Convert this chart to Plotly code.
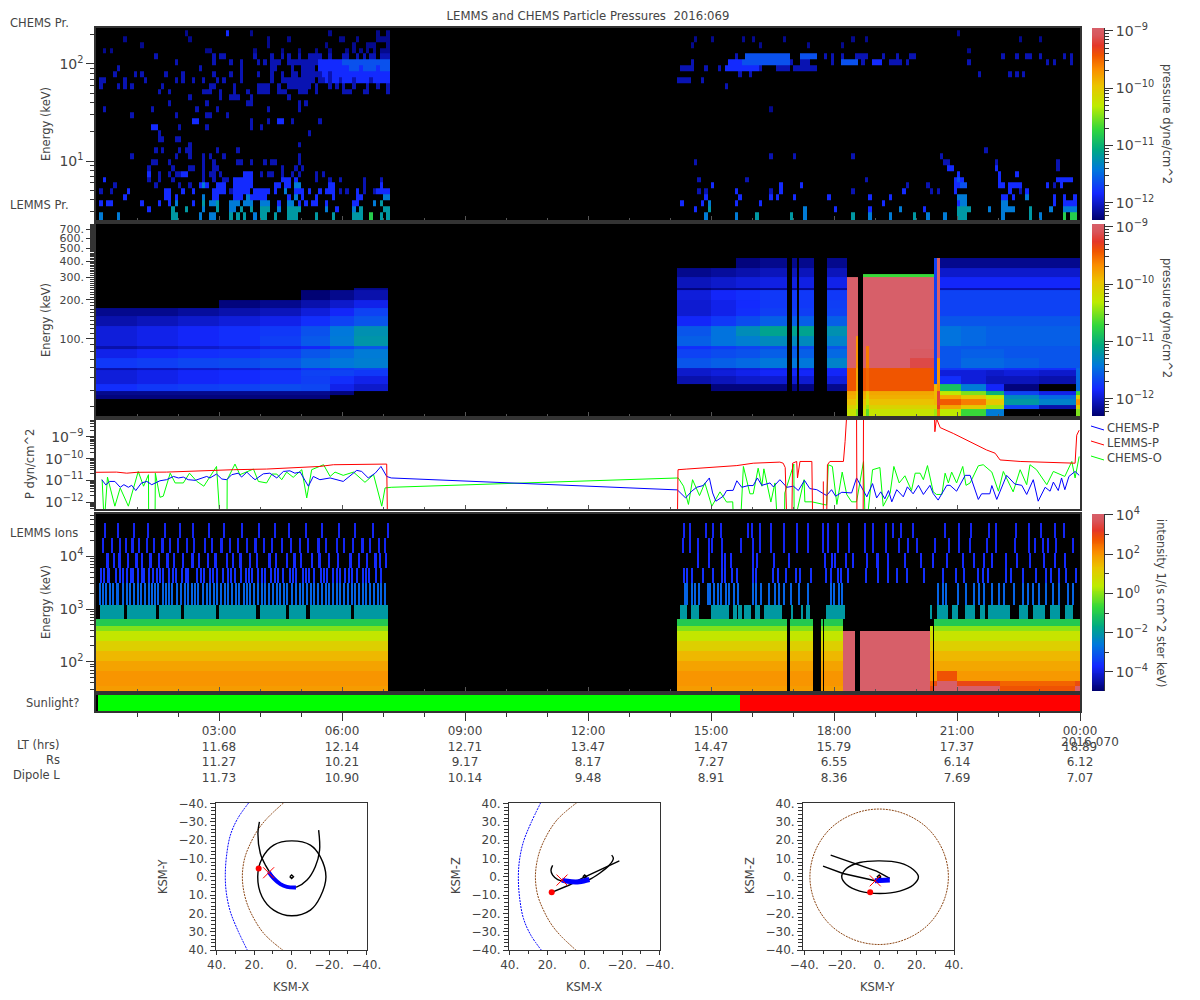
import math
import plotly.graph_objects as go

FONT = "DejaVu Sans"
INK = "#444444"
FRAME = "#333333"
W, H = 1200, 1000
N = None

# ---------- colour scale ----------
RAINBOW = [
    [0.0, "rgb(0,0,110)"], [0.14, "rgb(20,40,255)"], [0.262, "rgb(0,120,220)"],
    [0.367, "rgb(0,170,130)"], [0.472, "rgb(50,215,60)"], [0.594, "rgb(190,235,0)"],
    [0.70, "rgb(235,195,0)"], [0.787, "rgb(250,140,0)"], [0.857, "rgb(240,85,0)"],
    [0.909, "rgb(228,55,40)"], [0.96, "rgb(217,85,90)"], [1.0, "rgb(215,95,105)"],
]
P_MIN, P_MAX = -12.3, -8.95
I_MIN, I_MAX = -4.97, 4.05

# ---------- panel 1: CHEMS / LEMMS low-energy pressure, log10 dyne/cm^2 ----------
P1_ENERGY_EDGES = [2.47, 2.98, 3.42, 3.94, 4.52, 5.20, 5.98, 6.87, 7.90, 9.08, 10.4, 12.0, 13.8, 15.8, 18.2,
                   20.9, 24.1, 27.7, 31.8, 36.6, 42.0, 48.3, 55.5, 63.8, 73.4, 84.3, 97.0, 111, 128, 147, 169,
                   195, 224, 257]
P1_GREEN = {0: [80, 283, 285, 286]}
P1_TEAL = {0: [22, 23, 39, 41, 43, 48, 49, 52, 56, 57, 58, 64, 69, 75, 76, 77, 83, 85, 193, 203, 221, 239, 252, 253, 254, 273],
           1: [22, 26, 35, 42, 45, 48, 49, 50, 56, 57, 58, 59, 77, 84, 85, 179, 252, 253, 254, 255, 273],
           2: [31, 35, 83]}
P1_CYAN = {0: [1, 6, 30, 33, 34, 46, 178, 187, 207, 226, 232, 243, 248, 265, 276],
           1: [31, 39, 40, 53, 67, 75, 207, 235, 261, 265, 266, 267, 268, 279, 283, 284, 285, 286],
           2: [23, 33, 34, 39, 40, 41, 43, 44, 45, 48, 49, 50, 56, 57, 81, 179, 253, 254, 265, 266],
           3: [31, 44, 58, 84, 85, 252, 253, 254, 272],
           4: [55], 5: [31, 58, 59]}
P1_SOFT = {5: [253, 254], 6: [252],
           25: [74, 75, 76, 78, 79, 80, 81, 83, 84, 85],
           26: [72, 73, 74, 75, 76, 77, 78, 79, 80, 81, 82, 83, 84, 85, 218, 219, 220, 221, 222, 189, 190, 191, 192, 193, 194, 195, 196, 197, 198, 199, 200, 201, 202],
           27: [190, 191, 192, 193, 194, 195, 196, 197, 198, 199, 200, 201, 202, 206, 207, 208, 209, 210]}
P1_BRIGHT = {
    1: [15, 70, 175, 216, 226, 242],
    2: [1, 3, 4, 13, 18, 21, 28, 53, 59, 61, 63, 64, 67, 75, 76, 171, 177, 187, 194, 230, 252, 280, 283, 284, 285, 286],
    3: [8, 20, 21, 23, 34, 35, 40, 41, 42, 45, 46, 47, 48, 49, 56, 60, 64, 69, 76, 77, 178, 188, 197, 199, 204, 214, 226, 232, 265, 266, 268, 280, 283, 286],
    4: [9, 20, 21, 25, 28, 34, 35, 36, 37, 40, 41, 42, 43, 44, 46, 47, 48, 49, 50, 52, 58, 59, 60, 62, 65, 67, 68, 69, 76, 82, 83, 84, 85, 200, 187, 236, 251, 267, 272],
    5: [30, 31, 32, 35, 36, 37, 40, 41, 42, 43, 44, 45, 52, 53, 55, 56, 68, 69, 83, 180, 200, 206, 251, 252, 264, 265, 267, 268, 269, 270, 278, 282],
    6: [2, 40, 41, 42, 43, 44, 45, 54, 55, 56, 58, 251, 252, 253, 264, 281, 282, 283, 284, 285],
    7: [15, 25, 26, 43, 44, 45, 252, 264, 269],
    8: [249, 250, 263],
    16: [28, 29, 53, 54],
    15: [16, 17],
    24: [66, 67, 69, 70, 71, 72, 73, 74, 75, 76, 77, 78, 79, 80, 81, 82, 83, 84, 85],
    23: [67, 69, 70, 72, 73, 74, 76, 77, 78, 79, 81, 82, 83, 84, 85],
    25: [65, 66, 67, 68, 69, 70, 71, 72, 73, 77, 82, 184, 185, 186, 187, 188, 189, 190, 191, 192, 193],
    26: [65, 66, 67, 68, 69, 70, 71, 185, 186, 187, 188, 227, 228, 229],
    31: [38],
}
P1_BLUE = {
    4: [1, 4, 39, 71, 73, 78, 81, 176, 178, 197, 221, 244, 246, 270],
    5: [5, 17, 24, 27, 78, 206, 237, 243, 253, 280],
    6: [15, 18, 22, 31, 34, 37, 38, 64, 68, 71, 78, 83, 176, 190, 225],
    7: [18, 21, 23, 24, 31, 33, 34, 36, 48, 50, 51, 54, 57, 59, 64, 66],
    8: [15, 22, 27, 28, 31, 34, 35, 54, 58, 60, 281],
    9: [16, 17, 21, 31, 34, 41, 42, 45, 49, 51, 52, 59, 248, 249, 263, 281, 175],
    10: [10, 23, 27, 31, 33, 37, 59, 197, 204, 221, 247],
    11: [17, 19, 24, 26, 27, 35, 41, 260],
    12: [27, 59],
    13: [18, 19, 23, 24],
    14: [18, 62],
    15: [24, 32, 45, 48],
    16: [45, 50, 57, 65],
    17: [10, 23, 32, 33, 38],
    18: [2, 16, 29, 35, 50, 59],
    19: [21, 32, 44, 45, 59, 61],
    20: [27, 36, 39, 40, 41, 45, 56],
    21: [18, 21, 31, 32, 33, 36, 40, 44, 47, 48, 49, 50, 53, 54, 55, 59, 60, 61, 64, 72, 73, 74, 78, 79, 85],
    22: [1, 6, 8, 10, 19, 33, 34, 40, 47, 48, 49, 50, 53, 56, 57, 58, 59, 60, 61, 62, 64, 68, 70, 72, 75, 79, 82, 85, 184],
    23: [1, 2, 8, 14, 23, 25, 28, 31, 35, 37, 42, 51, 54, 55, 56, 57, 58, 59, 60, 61, 62, 63, 65, 66, 68, 71, 75, 80, 170, 171, 172, 173, 177],
    24: [5, 11, 13, 20, 25, 34, 39, 42, 47, 51, 54, 57, 58, 60, 61, 62, 63, 64, 65, 68, 188, 191, 258, 267, 269, 271],
    25: [6, 30, 42, 51, 52, 57, 60, 61, 62, 63, 171, 172, 173, 174, 178, 182, 194, 199, 200, 201, 202, 204, 205, 206, 207, 208, 209, 210],
    26: [23, 34, 39, 42, 47, 49, 51, 52, 53, 56, 57, 58, 59, 60, 61, 62, 63, 64, 174, 203, 206, 207, 208, 215, 224, 232, 233, 234, 235, 237, 255, 278, 280, 285],
    27: [17, 34, 36, 37, 46, 51, 54, 56, 59, 62, 63, 64, 65, 68, 72, 73, 76, 78, 80, 81, 83, 84, 85, 187, 213, 215, 218, 222, 223, 224, 225, 230, 234, 238, 239, 265, 269, 272, 273, 276, 283, 285],
}
P1_DARK = {
    28: [2, 4, 32, 33, 46, 54, 59, 64, 68, 73, 75, 77, 79, 81, 83, 84, 85, 255],
    29: [13, 50, 67, 75, 79, 80, 81, 85, 174, 194, 208, 218],
    30: [8, 27, 50, 56, 71, 72, 76, 82, 83, 84, 85, 175, 180, 189, 192, 201, 221, 225, 270, 276],
    31: [26, 45, 68, 82, 85, 252],
    18: [197],
}
P1_LEVEL_BY_NAME = [(P1_DARK, -12.2), (P1_BLUE, -12.08), (P1_BRIGHT, -11.82), (P1_SOFT, -11.62),
                    (P1_CYAN, -11.4), (P1_TEAL, -11.2), (P1_GREEN, -10.8)]

# ---------- panel 2: LEMMS pressure, log10 dyne/cm^2 ----------
P2_ENERGY_EDGES = [422, 353, 318, 301, 248, 239, 200, 173, 151, 126, 105, 88.3, 83.7, 71.3, 59.7, 57.7, 51.8,
                   45.0, 39.6, 36.9, 34.4, 30.9, 28.8, 25.4]
GAP = [N] * 23
L1 = [N, N, N, N, N, N, N, -12.2, -12.1, -11.95, -11.95, -12.1, -11.9, -11.75, -12.1, -11.95, -11.95, -11.8, -12.2, -12.25, N, N, N]
L2 = [N, N, N, N, N, N, N, -12.2, -12.05, -11.9, -11.9, -12.05, -11.85, -11.72, -12.05, -11.9, -11.9, -11.75, -12.2, -12.25, N, N, N]
L3 = [N, N, N, N, N, N, N, -12.15, -12.0, -11.85, -11.85, -12.0, -11.8, -11.68, -12.0, -11.85, -11.85, -11.72, -12.2, -12.25, N, N, N]
L4 = [N, N, N, N, N, N, -12.25, -12.1, -11.95, -11.8, -11.8, -11.95, -11.78, -11.65, -11.95, -11.82, -11.82, -11.7, -12.2, -12.25, N, N, N]
L5 = [N, N, N, N, N, N, -12.2, -12.05, -11.9, -11.75, -11.72, -11.9, -11.72, -11.6, -11.9, -11.78, -11.78, -11.65, -12.2, -12.25, N, N, N]
L6 = [N, N, N, N, N, -12.28, -12.1, -11.95, -11.8, -11.62, -11.58, -11.85, -11.6, -11.5, -11.8, -11.7, -11.72, -11.68, -12.2, -12.25, N, N, N]
L7 = [N, N, N, N, N, -12.2, -12.0, -11.85, -11.7, -11.42, -11.4, -11.7, -11.5, -11.42, -11.75, -11.7, -11.8, -11.9, -12.25, N, N, N, N]
L8 = [N, N, N, N, -12.2, -12.1, -11.9, -11.7, -11.6, -11.25, -11.22, -11.6, -11.4, -11.38, -11.7, -11.75, -11.9, -12.0, N, N, N, N, N]
M1 = [N, -12.2, -12.2, -12.05, -12.25, -11.95, -11.98, -11.98, -11.85, -11.6, -11.55, -11.8, -11.7, -11.6, -12.0, -12.0, -12.1, N, N, N, N, N, N]
M2 = [N, -12.15, -12.15, -12.0, -12.2, -11.85, -11.9, -11.9, -11.75, -11.45, -11.45, -11.75, -11.65, -11.55, -12.0, -11.95, -12.05, -12.25, N, N, N, N, N]
M3 = [-12.25, -12.1, -12.1, -11.95, -12.2, -11.8, -11.82, -11.8, -11.65, -11.28, -11.38, -11.7, -11.62, -11.5, -11.95, -11.9, -12.0, -12.25, N, N, N, N, N]
M4 = [-12.2, -12.05, -12.05, -11.92, -12.2, -11.75, -11.75, -11.72, -11.55, -11.12, -11.3, -11.65, -11.55, -11.42, -11.9, -11.85, -11.98, -12.25, N, N, N, N, N]
M5 = [-12.2, -12.05, -12.05, -11.9, -12.15, -11.75, -11.72, -11.7, -11.55, -11.25, -11.35, -11.6, -11.5, -11.35, -11.85, -11.85, -11.95, -12.2, N, N, N, N, N]
PK1 = [N, N, N, -8.9, -8.9, -8.9, -8.9, -8.9, -8.9, -8.9, -8.9, -8.9, -8.9, -8.9, -9.43, -9.43, -9.43, -9.43, -9.8, -9.85, -9.95, -10.1, -10.25]
PK2 = [N, N, N, -8.9, -8.9, -8.9, -8.9, -8.9, -8.9, -8.9, -9.7, -9.7, -9.7, -9.7, -9.8, -9.8, -9.8, -9.8, -10.0, -10.1, -10.2, -10.3, -10.5]
PK3 = [N, N, -10.7, -8.9, -8.9, -8.9, -8.9, -8.9, -8.9, -8.9, -8.9, -8.9, -8.9, -8.9, -9.43, -9.43, -9.43, -9.43, -9.8, -9.85, -9.95, -10.1, -10.25]
PK4 = [N, N, -10.7, -8.9, -8.9, -8.9, -8.9, -8.9, -8.9, -8.9, -8.9, -9.6, -9.6, -9.6, -9.5, -9.5, -9.5, -9.5, -10.0, -10.1, -10.25, -10.4, -10.6]
PK5 = [N, N, -10.7, -8.9, -8.9, -8.9, -8.9, -8.9, -8.9, -8.9, -8.9, -8.9, -9.0, -9.15, -9.43, -9.43, -9.43, -9.43, -9.8, -9.85, -9.95, -10.1, -10.25]
ST1 = [-11.7, -11.7, -11.7, -11.7, -11.7, -11.7, -11.7, -11.7, -11.7, -11.7, -11.7, -11.7, -11.7, -11.7, -11.7, -11.7, -11.7, -9.9, -9.9, -9.9, -9.9, -10.1, -10.4]
ST2 = [-8.9, -8.9, -8.9, -8.9, -8.9, -8.9, -8.9, -8.9, -8.9, -8.9, -8.9, -8.9, -8.9, -9.7, -9.7, -9.7, -9.7, -9.7, -9.2, -9.2, -9.2, -9.3, -9.6]
R1 = [-12.2, -12.0, -12.0, -11.85, -12.1, -11.7, -11.7, -11.7, -11.6, -11.45, -11.45, -11.6, -11.6, -11.6, -11.75, -11.95, -11.8, -10.9, -10.3, -9.8, -9.45, -9.8, -10.3]
R2 = [-12.2, -12.0, -12.0, -11.85, -12.1, -11.7, -11.7, -11.7, -11.6, -11.5, -11.5, -11.6, -11.55, -11.5, -11.75, -11.95, -11.95, -11.4, -10.5, -10.0, -9.6, -10.0, -10.7]
R3 = [-12.2, -12.0, -12.0, -11.85, -12.1, -11.7, -11.7, -11.7, -11.6, -11.55, -11.55, -11.6, -11.55, -11.5, -11.75, -12.0, -12.05, -11.85, -11.0, -10.3, -10.0, -10.4, -11.4]
R4 = [-12.2, -12.0, -12.0, -11.85, -12.1, -11.7, -11.7, -11.7, -11.6, -11.55, -11.55, -11.6, -11.6, -11.55, -11.8, -11.95, -12.05, -12.25, -11.7, -11.3, -11.2, -11.7, N]
R5 = [-12.2, -12.0, -12.0, -11.85, -12.1, -11.7, -11.7, -11.7, -11.6, -11.55, -11.55, -11.6, -11.6, -11.6, -11.8, -12.0, -12.1, N, -11.9, -11.5, -11.35, -12.1, N]
R6 = [-12.2, -12.0, -12.0, -11.85, -12.1, -11.7, -11.7, -11.7, -11.6, -11.55, -11.55, -11.6, -11.6, -11.6, -11.5, -11.5, -11.5, -11.5, -10.7, -10.1, -9.7, -10.1, -10.5]
P2_COL_HOURS = [0, 1, 2, 3, 4, 5, 5.7, 6.3, 7.12, 14.17, 15, 15.6, 16.2, 16.85, 16.97, 17.1, 17.15, 17.51, 17.83, 18.31,
                18.54, 18.59, 18.71, 18.78, 18.85, 19.85, 20.44, 20.51, 20.59, 21.1, 21.7, 22.15, 23, 23.9, 24]
P2_COL_PROFILE = [L1, L2, L3, L4, L5, L6, L7, L8, GAP, M1, M2, M3, M4, GAP, M4, GAP, M4, GAP, M5, PK1,
                  PK2, GAP, PK3, PK4, PK3, PK5, ST1, ST2, R1, R2, R3, R4, R5, R6]

# ---------- panel 3: line series, (hour, log10 P) ----------
CHEMS_P = [(0.14, -10.97), (0.24, -11.21), (0.33, -11.05), (0.46, -11.05), (0.59, -11.32), (0.68, -11.20), (0.79, -11.32),
           (0.87, -11.23), (0.97, -11.47), (1.11, -11.12), (1.24, -11.05), (1.36, -11.20), (1.56, -11.02), (1.72, -10.97),
           (1.89, -10.82), (2.01, -10.89), (2.13, -10.85), (2.25, -10.97), (2.42, -11.00), (2.58, -10.89), (2.70, -10.82),
           (2.78, -10.89), (2.94, -10.71), (3.07, -10.94), (3.19, -10.97), (3.31, -10.74), (3.47, -10.67), (3.55, -10.85),
           (3.68, -10.62), (3.80, -10.85), (3.88, -10.97), (4.08, -10.70), (4.24, -10.67), (4.41, -10.89), (4.57, -10.59),
           (4.73, -10.56), (4.85, -10.67), (4.98, -10.62), (5.18, -11.27), (5.30, -10.82), (5.46, -10.97), (5.71, -10.89),
           (6.03, -11.05), (6.36, -10.54), (6.48, -10.59), (6.64, -10.89), (6.81, -10.67), (6.95, -10.36), (7.09, -10.82),
           (7.20, -10.89), (14.0, -11.43), (14.18, -11.44), (14.38, -11.81), (14.53, -11.50), (14.65, -11.32), (14.81, -11.24),
           (14.96, -10.89), (15.04, -11.58), (15.12, -11.96), (15.30, -11.73), (15.38, -11.47), (15.54, -11.46), (15.63, -11.02),
           (15.75, -11.32), (15.91, -11.24), (16.03, -11.24), (16.13, -10.89), (16.24, -11.23), (16.44, -11.12), (16.52, -11.30),
           (16.68, -10.97), (16.85, -11.32), (17.01, -11.27), (17.13, -11.47), (17.28, -11.00), (17.41, -11.38), (17.58, -11.43),
           (17.82, -11.70), (17.94, -11.43), (18.04, -11.73), (18.19, -11.55), (18.31, -11.58), (18.43, -11.58), (18.55, -10.89),
           (18.80, -11.76), (18.94, -11.15), (19.04, -11.81), (19.14, -11.53), (19.24, -11.85), (19.33, -11.47), (19.41, -11.99),
           (19.53, -11.43), (19.69, -11.76), (19.79, -11.30), (19.93, -11.62), (20.06, -11.23), (20.18, -11.65), (20.34, -11.23),
           (20.42, -11.61), (20.54, -11.91), (20.75, -11.23), (20.83, -11.23), (20.99, -11.50), (21.20, -10.77), (21.32, -10.77),
           (21.52, -11.88), (21.60, -11.62), (21.80, -11.62), (21.85, -11.24), (21.97, -11.88), (22.21, -10.77), (22.41, -11.17),
           (22.58, -11.23), (22.70, -11.65), (22.86, -10.97), (22.98, -11.96), (23.15, -11.32), (23.27, -11.50), (23.35, -11.08),
           (23.47, -11.47), (23.55, -10.89), (23.63, -11.43), (23.73, -10.82), (23.88, -10.59), (23.98, -10.77)]
LEMMS_P = [(0.0, -10.63), (0.5, -10.62), (0.75, -10.67), (1.0, -10.63), (1.72, -10.62), (2.54, -10.56), (3.35, -10.51),
           (4.16, -10.48), (4.98, -10.41), (5.46, -10.36), (5.79, -10.28), (7.09, -10.25), (7.11, -13), (N, N),
           (14.18, -13), (14.195, -10.51), (14.41, -10.48), (14.98, -10.41), (15.63, -10.32), (16.03, -10.21), (16.68, -10.16),
           (16.76, -10.21), (16.81, -10.41), (16.85, -13), (16.97, -13), (16.99, -10.21), (17.09, -10.13), (17.11, -10.89),
           (17.17, -10.13), (17.46, -10.13), (17.48, -13), (N, N), (17.74, -11.05), (17.74, -13), (N, N), (17.82, -13),
           (17.84, -10.28), (17.90, -10.13), (18.23, -10.13), (18.27, -9.22), (18.31, -8), (18.55, -8), (18.56, -13),
           (18.71, -13), (18.72, -8), (20.45, -8), (20.46, -8.76), (20.50, -8.15), (20.59, -8.57), (20.91, -8.84), (21.32, -9.22),
           (21.72, -9.60), (21.93, -9.75), (22.05, -10.06), (22.54, -10.13), (23.88, -10.21), (23.92, -8.92), (23.98, -8.69)]
CHEMS_O = [(0.15, -10.97), (0.20, -13), (0.28, -10.85), (0.46, -12.19), (0.59, -11.35), (0.79, -12.19), (1.03, -10.59),
           (1.16, -11.27), (1.28, -10.74), (1.285, -13), (1.44, -13), (1.447, -10.67), (1.56, -11.78), (1.64, -11.73),
           (1.81, -10.67), (1.93, -11.12), (2.13, -11.12), (2.28, -10.67), (2.46, -11.05), (2.63, -11.27), (2.94, -10.36),
           (3.03, -13), (3.195, -13), (3.20, -10.97), (3.39, -10.25), (3.51, -10.74), (3.84, -10.48), (3.96, -11.05),
           (4.16, -11.12), (4.29, -10.71), (4.41, -10.71), (4.53, -10.97), (4.65, -10.62), (4.81, -10.86), (5.02, -10.51),
           (5.14, -11.81), (5.26, -10.51), (5.55, -10.28), (5.71, -10.82), (5.83, -10.62), (6.03, -10.77), (6.28, -10.62),
           (6.56, -11.09), (6.77, -10.74), (6.97, -12.19), (7.05, -11.35), (7.20, -11.32), (14.0, -10.89), (14.20, -10.89),
           (14.33, -11.27), (14.45, -12.11), (14.55, -10.97), (14.72, -11.70), (14.85, -11.12), (15.02, -12.19), (15.22, -11.53),
           (15.38, -12.0), (15.53, -11.99), (15.55, -13), (15.72, -13), (15.79, -10.36), (15.95, -11.62), (16.03, -11.62),
           (16.15, -10.44), (16.24, -11.27), (16.29, -10.47), (16.46, -12.0), (16.56, -11.12), (16.62, -13), (16.79, -13),
           (16.80, -11.58), (17.02, -10.25), (17.03, -13), (17.27, -10.97), (17.29, -11.99), (17.46, -11.99), (17.82, -12.14),
           (17.86, -10.28), (17.96, -10.36), (18.07, -12.11), (18.20, -10.62), (18.31, -11.65), (18.43, -11.99), (18.55, -11.99),
           (18.72, -10.13), (18.76, -13), (18.80, -13), (18.94, -10.51), (19.12, -10.41), (19.20, -12.19), (19.37, -11.58),
           (19.46, -10.36), (19.59, -11.12), (19.73, -10.79), (19.89, -11.47), (19.98, -10.67), (20.10, -10.67), (20.18, -10.97),
           (20.28, -10.32), (20.42, -11.53), (20.50, -11.65), (20.63, -11.65), (20.71, -10.67), (20.79, -11.12), (20.87, -10.62),
           (20.99, -11.12), (21.14, -10.36), (21.22, -11.23), (21.32, -11.12), (21.52, -10.33), (21.64, -10.28), (21.85, -10.62),
           (22.01, -11.50), (22.13, -10.59), (22.37, -11.53), (22.54, -10.51), (22.70, -11.20), (22.78, -10.28), (22.94, -10.51),
           (23.19, -11.20), (23.35, -10.59), (23.63, -10.82), (23.80, -10.13), (23.88, -10.89), (23.98, -9.90)]

# ---------- panel 4: LEMMS ions, log10 intensity ----------
P4_ENERGY_EDGES = [63100, 42500, 22000, 11400, 5900, 3060, 1170, 659, 485, 389, 251, 162, 104, 67.4, 43.5, 34.9, 28]
IONS_NORMAL = [-1.0, -0.1, 0.5, 1.05, 1.5, 1.8, 2.0, 2.0, 1.9]
IONS_PINK = [N, N, 4.05, 4.05, 4.05, 4.05, 4.05, 4.05, 4.05]
IONS_R1 = [-1.0, 0.0, 0.55, 1.05, 1.5, 1.75, 2.8, 4.05, 4.05]
IONS_R2 = [-1.0, 0.0, 0.55, 1.05, 1.5, 1.75, 1.95, 3.0, 4.05]
IONS_R3 = [-1.0, 0.0, 0.55, 1.05, 1.5, 1.75, 1.95, 2.6, 2.8]
IONS_R4 = [-1.0, 0.0, 0.55, 1.05, 1.5, 1.75, 1.95, 2.9, 4.05]
IONS_SPIKE = [N, 0.4, 0.8, 1.2, 1.6, 1.8, 2.0, 2.6, 3.0]
P4_SOLID_SPANS = [(0, 292, IONS_NORMAL), (581, 691, IONS_NORMAL), (694, 717, IONS_NORMAL), (725, 727, IONS_NORMAL),
                  (728, 747, IONS_NORMAL), (747, 759, IONS_PINK), (764, 834, IONS_PINK), (834, 837, IONS_SPIKE),
                  (838, 841, IONS_R4), (841, 861, IONS_R1), (861, 904, IONS_R2), (904, 979, IONS_R3), (979, 984, IONS_R4)]
P4_TEAL_SPANS = [(4, 28), (31, 60), (63, 85), (88, 120), (123, 160), (164, 190), (193, 210), (214, 255), (258, 292),
                 (584, 591), (595, 603), (615, 633), (637, 641), (642, 646), (648, 655), (659, 664), (668, 686), (695, 697),
                 (705, 707), (710, 714), (730, 749), (834, 836), (841, 852), (856, 862), (869, 879), (884, 889), (892, 914),
                 (923, 932), (937, 949), (954, 964), (969, 977)]
P4_CYAN_SPIKES = [3, 6, 9, 13, 16, 20, 21, 26, 30, 33, 37, 41, 44, 48, 52, 55, 58, 61, 66, 69, 72, 75, 80, 84, 88, 91, 95, 98,
                  101, 106, 110, 113, 117, 120, 124, 128, 131, 135, 139, 142, 147, 150, 153, 157, 161, 165, 168, 172, 176, 180,
                  183, 187, 190, 195, 199, 203, 206, 210, 214, 217, 221, 225, 229, 232, 236, 240, 243, 247, 251, 255, 258, 262,
                  266, 269, 273, 277, 281, 284, 288, 588, 590, 595, 598, 602, 611, 613, 617, 621, 624, 629, 632, 637, 641, 656,
                  659, 664, 672, 678, 682, 687, 694, 702, 711, 734, 737, 742, 745, 841, 846, 849, 861, 869, 877, 882, 887, 895,
                  902, 907, 917, 926, 931, 936, 942, 949, 956, 962, 971, 976]
P4_DEEP_SPIKES = [4, 7, 11, 12, 19, 23, 26, 30, 34, 36, 41, 45, 47, 52, 56, 60, 63, 66, 72, 76, 79, 85, 89, 91, 100, 104, 107, 113,
                  116, 120, 126, 131, 134, 138, 144, 149, 152, 155, 161, 165, 168, 174, 178, 181, 186, 193, 196, 199, 206, 209,
                  212, 217, 224, 227, 230, 236, 240, 243, 248, 252, 255, 260, 266, 269, 272, 279, 284,
                  587, 590, 595, 606, 616, 625, 628, 635, 640, 656, 659, 676, 681, 689, 699, 703, 714, 729, 734, 741, 744, 751,
                  769, 781, 791, 800, 810, 827, 846, 859, 867, 881, 886, 891, 909, 914, 926, 939, 949, 954, 962, 969, 979]
P4_BLUE_SPIKES = [10, 11, 17, 22, 23, 31, 39, 40, 45, 53, 54, 62, 70, 71, 77, 86, 95, 96, 102, 111, 118, 119, 130, 136, 143, 144, 153,
                  160, 172, 173, 179, 190, 197, 198, 204, 215, 222, 223, 232, 241, 253, 254, 262, 270, 278, 279, 283, 289,
                  601, 612, 625, 628, 634, 656, 660, 677, 692, 728, 735, 738,
                  749, 756, 770, 780, 781, 791, 808, 824, 836, 850, 866, 877, 887, 895, 909, 920, 933, 947, 958, 968]
P4_HIGH_SPIKES = [6, 15, 23, 29, 35, 36, 42, 50, 57, 65, 66, 73, 81, 90, 97, 108, 115, 124, 125, 133, 141, 150, 158, 159, 167, 175, 185, 194, 203,
                  211, 221, 222, 229, 240, 247, 256, 265, 266, 273, 282, 288, 586, 593, 601, 612, 615, 625, 644, 656, 663, 674, 687, 700,
                  711, 726, 731, 741, 752, 768, 776, 789, 802, 811, 820, 838, 852, 862, 873, 890, 899, 918, 932, 938, 946, 951,
                  959, 976]
P4_TOP_SPIKES = [8, 21, 37, 51, 68, 83, 96, 112, 127, 145, 162, 178, 192, 209, 225, 242, 258, 276, 291, 587, 593, 609, 616, 624,
                 651, 655, 663, 674, 687, 700, 711, 726, 731, 741, 752, 768, 776, 789, 796, 804, 816, 848, 862, 874, 892, 899,
                 919, 932, 944, 958, 967]

# ---------- sunlight ----------
SUN_HOURS = [0, 0.05, 15.71, 24]
SUN_STATE = [0, 2, 1]

# ---------- table under the time axis ----------
TICK_HOURS = [3, 6, 9, 12, 15, 18, 21, 24]
TIME_LABELS = ["03:00", "06:00", "09:00", "12:00", "15:00", "18:00", "21:00", "00:00"]
LT_HRS = ["11.68", "12.14", "12.71", "13.47", "14.47", "15.79", "17.37", "18.89"]
RS = ["11.27", "10.21", "9.17", "8.17", "7.27", "6.55", "6.14", "6.12"]
DIPOLE_L = ["11.73", "10.90", "10.14", "9.48", "8.91", "8.36", "7.69", "7.07"]

# ---------- orbit plots ----------
MP_X = [4.3, 13.2, 18.1, 22.0, 25.1, 26.3, 25.1, 22.0, 14.9, 4.3]
MP_T = [-40.4, -31.8, -25.5, -18.2, -10, 0, 10, 19.1, 30.9, 40.4]
BS_X = [22.9, 28.8, 32.7, 34.8, 35.4, 34.8, 32.7, 28.8, 23.5]
BS_T = [-40.4, -31.8, -22.7, -10.9, 0, 9.1, 19.1, 29.1, 40.4]
MP_YZ_Y = [37, 35.7, 32, 26.2, 18.5, 9.6, 0, -9.6, -18.5, -26.2, -32, -35.7, -37, -35.7, -32, -26.2, -18.5, -9.6, 0, 9.6, 18.5, 26.2, 32, 35.7, 37]
MP_YZ_Z = [0, 9.6, 18.5, 26.2, 32, 35.7, 37, 35.7, 32, 26.2, 18.5, 9.6, 0, -9.6, -18.5, -26.2, -32, -35.7, -37, -35.7, -32, -26.2, -18.5, -9.6, 0]
SAT_U = [1, 0, -1, 0, 1]
SAT_V = [0, 1, 0, -1, 0]

XY_LOOP_X = [0, -10, -15.3, -18.3, -15.3, -10, 0, 9.6, 15.8, 18.1, 15.8, 9.6, 0]
XY_LOOP_Y = [-19.6, -17.3, -10.9, 0, 10.9, 18.2, 21.3, 18.2, 10.9, 0, -10, -17.3, -19.6]
XY_ARC_X = [17.2, 18, 16.7, 14, 10.5, 6, 0.7, -2.8, -8.2, -12.6, -14.9, -14.4]
XY_ARC_Y = [-30, -23.6, -12.7, -6.4, -0.9, 3.6, 5.8, 5.5, 1.8, -5.5, -14.5, -25.5]
XY_NOW_X = [12.3, 9.6, 6, 2.5, -2.3]
XY_NOW_Y = [-2.7, 0.9, 4, 5.5, 5.8]
XY_START = (17.6, -4.5)
XY_MARK = (12.3, -2.2)

XZ_LINE_X = [17.6, 8.2, 0.7, -7.8, -14, -18.5]
XZ_LINE_Z = [-8.5, -4.5, -0.4, 3.6, 6.9, 8.7]
XZ_ARC_X = [17.1, 18, 17.1, 14.4, 10, 2.8, -2.5, -7.8, -13.2, -15.3, -14.4]
XZ_ARC_Z = [6.2, 3.6, 0.9, -1.5, -2.7, -2.7, -1.5, 1.8, 6.4, 10, 11.8]
XZ_NOW_X = [12.1, 9.1, 2.8, -2.5]
XZ_NOW_Z = [-1.8, -2.5, -2.7, -1.5]
XZ_START = (17.6, -8.5)
XZ_MARK = (12.1, -1.8)

YZ_LOOP_Y = [-20, -17.5, -10.4, 0.4, 11, 18.2, 21, 18.2, 11, 0.4, -10.4, -17.5, -20]
YZ_LOOP_Z = [0, 4.5, 7.8, 8.7, 7.6, 4, 0, -4.5, -7.8, -9.1, -7.8, -4.2, 0]
YZ_A_Y = [-25.9, -12.1, -1.4, 5.7]
YZ_A_Z = [11.8, 6.9, 3.1, -0.9]
YZ_B_Y = [-30, -19.3, -5, -2.3]
YZ_B_Z = [5.8, 1.8, -1.5, -2.2]
YZ_NOW_Y = [-2.3, 0.4, 5.7]
YZ_NOW_Z = [-2.2, -2.2, -1.8]
YZ_START = (-4.8, -8.5)
YZ_MARK = (-2.1, -2.2)


# ---------- helpers ----------
def dom_x(a, b):
    return [a / W, b / W]

def dom_y(top, bottom):
    return [1 - bottom / H, 1 - top / H]

def decade_ticks(lo, hi):
    out = []
    for e in range(lo, hi):
        out += [k * 10.0 ** e for k in range(1, 10)]
    return out

def sup(e):
    return "10<sup>" + str(e).replace("-", "\u2212") + "</sup>"

def time_axis(anchor, labels=False):
    ax = dict(domain=dom_x(96, 1080), range=[0, 24], anchor=anchor, showgrid=False, zeroline=False,
              showline=True, linecolor=FRAME, linewidth=1.5, mirror=True, tickmode="array",
              tickvals=TICK_HOURS, showticklabels=False, ticks="inside", ticklen=4, tickcolor="#555555", tickwidth=1,
              minor=dict(tickmode="array", tickvals=list(range(1, 24)), ticks="inside", ticklen=2.5, tickcolor="#555555"))
    if labels:
        ax.update(ticks="outside", ticklen=8, tickcolor=FRAME, showticklabels=True,
                  ticktext=[f"{a}<br>{b}<br>{c}<br>{d}" for a, b, c, d in zip(TIME_LABELS, LT_HRS, RS, DIPOLE_L)],
                  tickfont=dict(family=FONT, size=12, color=INK), tickangle=0)
        ax["minor"] = dict(tickmode="array", tickvals=list(range(1, 24)), ticks="outside", ticklen=4, tickcolor=FRAME)
    return ax

def log_axis(anchor, top, bottom, rng, tickvals, ticktext, minor, size=14):
    return dict(domain=dom_y(top, bottom), type="log", range=rng, anchor=anchor, showgrid=False, zeroline=False,
                showline=True, linecolor=FRAME, linewidth=1.5, mirror=True, tickmode="array",
                tickvals=tickvals, ticktext=ticktext, ticks="outside", ticklen=8, tickcolor=FRAME,
                tickfont=dict(family=FONT, size=size, color=INK),
                minor=dict(tickmode="array", tickvals=minor, ticks="outside", ticklen=4, tickcolor=FRAME))


fig = go.Figure()

# panel 1
p1_z = [[N] * 288 for _ in range(33)]
for table, val in P1_LEVEL_BY_NAME:
    for r, cols in table.items():
        for c in cols:
            p1_z[r][c] = val
fig.add_trace(go.Heatmap(x=[i / 12 for i in range(289)], y=P1_ENERGY_EDGES, z=p1_z, colorscale=RAINBOW, zmin=P_MIN, zmax=P_MAX,
                         showscale=False, xaxis="x", yaxis="y", hoverongaps=False))
# panel 2 (rows typed top to bottom, drawn from the lowest energy up)
p2_rows = [[col[r] for col in P2_COL_PROFILE] for r in range(23)]
fig.add_trace(go.Heatmap(x=P2_COL_HOURS, y=P2_ENERGY_EDGES[::-1], z=p2_rows[::-1], colorscale=RAINBOW, zmin=P_MIN, zmax=P_MAX,
                         showscale=False, xaxis="x2", yaxis="y2", hoverongaps=False))
# panel 3
for name, series, color in [("CHEMS-O", CHEMS_O, "#00ff00"), ("CHEMS-P", CHEMS_P, "#0000ff"), ("LEMMS-P", LEMMS_P, "#ff0000")]:
    fig.add_trace(go.Scatter(x=[p[0] for p in series], y=[None if p[1] is None else 10.0 ** p[1] for p in series], mode="lines",
                             name=name, line=dict(color=color, width=1), connectgaps=False, xaxis="x3", yaxis="y3",
                             showlegend=False))
# panel 4
p4_z = [[N] * 984 for _ in range(16)]
for a, b, prof in P4_SOLID_SPANS:
    for i, v in enumerate(prof):
        for c in range(a, b):
            p4_z[7 + i][c] = v
for a, b in P4_TEAL_SPANS:
    for c in range(a, b):
        p4_z[6][c] = -2.0
for cols, r, val in [(P4_CYAN_SPIKES, 5, -2.9), (P4_DEEP_SPIKES, 4, -3.6), (P4_BLUE_SPIKES, 3, -3.7),
                     (P4_HIGH_SPIKES, 2, -3.8), (P4_TOP_SPIKES, 1, -3.8)]:
    for c in cols:
        p4_z[r][c] = val
        p4_z[r][min(c + 1, 983)] = val
fig.add_trace(go.Heatmap(x=[i * 24 / 984 for i in range(985)], y=P4_ENERGY_EDGES[::-1], z=p4_z[::-1], colorscale=RAINBOW, zmin=I_MIN, zmax=I_MAX,
                         showscale=False, xaxis="x4", yaxis="y4", hoverongaps=False))
# sunlight
fig.add_trace(go.Heatmap(x=SUN_HOURS, y=[0, 1], z=[SUN_STATE], colorscale=[[0, "black"], [0.34, "black"], [0.34, "#ff0000"], [0.67, "#ff0000"], [0.67, "#00ff00"], [1, "#00ff00"]],
                         zmin=0, zmax=2, showscale=False, xaxis="x5", yaxis="y5"))
# colour-bar strips
for lo, hi, xa, ya in [(P_MIN, P_MAX, "x6", "y6"), (P_MIN, P_MAX, "x7", "y7"), (I_MIN, I_MAX, "x8", "y8")]:
    n = 192
    levels = [lo + (hi - lo) * k / n for k in range(n + 1)]
    fig.add_trace(go.Heatmap(x=[0, 1], y=levels, z=[[(levels[k] + levels[k + 1]) / 2] for k in range(n)], colorscale=RAINBOW, zmin=lo, zmax=hi,
                             showscale=False, xaxis=xa, yaxis=ya))

# orbit plots
def add_line(xa, ya, xs, ys, color="black", width=1.4, dash=None, shape=None):
    fig.add_trace(go.Scatter(x=xs, y=ys, mode="lines", line=dict(color=color, width=width, dash=dash, shape=shape or "linear"),
                             xaxis=xa, yaxis=ya, showlegend=False))

def add_mark(xa, ya, pt, symbol, size, color, width=0):
    fig.add_trace(go.Scatter(x=[pt[0]], y=[pt[1]], mode="markers", xaxis=xa, yaxis=ya, showlegend=False,
                             marker=dict(symbol=symbol, size=size, color=color, line=dict(color=color, width=width))))

BROWN = "#8b4513"
DOTS = "2px,1px"
for xa, ya in [("x9", "y9"), ("x10", "y10")]:
    add_line(xa, ya, BS_X, BS_T, "#0000ff", 1, DOTS, "spline")
    add_line(xa, ya, MP_X, MP_T, BROWN, 1, DOTS, "spline")
add_line("x11", "y11", MP_YZ_Y, MP_YZ_Z, BROWN, 1, DOTS, "spline")

add_line("x9", "y9", XY_LOOP_X, XY_LOOP_Y, shape="spline")
add_line("x9", "y9", XY_ARC_X, XY_ARC_Y, shape="spline")
add_line("x9", "y9", SAT_U, SAT_V)
add_line("x9", "y9", XY_NOW_X, XY_NOW_Y, "#0000ff", 4, shape="spline")
add_mark("x9", "y9", XY_START, "circle", 6, "#ff0000")
add_mark("x9", "y9", XY_MARK, "x-thin", 11, "#ff0000", 1)

add_line("x10", "y10", XZ_LINE_X, XZ_LINE_Z)
add_line("x10", "y10", XZ_ARC_X, XZ_ARC_Z, shape="spline")
add_line("x10", "y10", SAT_U, SAT_V)
add_line("x10", "y10", XZ_NOW_X, XZ_NOW_Z, "#0000ff", 5, shape="spline")
add_mark("x10", "y10", XZ_START, "circle", 6, "#ff0000")
add_mark("x10", "y10", XZ_MARK, "x-thin", 11, "#ff0000", 1)

add_line("x11", "y11", YZ_LOOP_Y, YZ_LOOP_Z, shape="spline")
add_line("x11", "y11", YZ_A_Y, YZ_A_Z)
add_line("x11", "y11", YZ_B_Y, YZ_B_Z)
add_line("x11", "y11", SAT_U, SAT_V)
add_line("x11", "y11", YZ_NOW_Y, YZ_NOW_Z, "#0000ff", 5)
add_mark("x11", "y11", YZ_START, "circle", 6, "#ff0000")
add_mark("x11", "y11", YZ_MARK, "x-thin", 11, "#ff0000", 1)

# ---------- layout ----------
P1_MINOR = decade_ticks(0, 3)
P3_MINOR = decade_ticks(-13, -8)
P4_MINOR = decade_ticks(1, 5)
P2_MINOR = list(range(30, 100, 10)) + list(range(110, 780, 10))
layout = dict(width=W, height=H, margin=dict(l=0, r=0, t=0, b=0, pad=0, autoexpand=False), paper_bgcolor="white", plot_bgcolor="white",
              showlegend=False, font=dict(family=FONT, size=12, color=INK),
              title=dict(text="LEMMS and CHEMS Particle Pressures  2016:069", x=588 / W, y=1 - 16 / H, xanchor="center", yanchor="middle",
                         font=dict(family=FONT, size=11.7, color=INK)))

layout["xaxis"] = time_axis("y")
layout["yaxis"] = log_axis("x", 28, 220, [0.392, 2.371], [10, 100], [sup(1), sup(2)], P1_MINOR)
layout["xaxis2"] = time_axis("y2")
layout["yaxis2"] = log_axis("x2", 224, 416, [1.405, 2.888], [100, 200, 300, 400, 500, 600, 700],
                            ["100.", "200.", "300.", "400.", "500.", "600.", "700."], P2_MINOR, size=11)
layout["xaxis3"] = time_axis("y3")
layout["yaxis3"] = log_axis("x3", 420, 509, [-12.32, -8.22], [1e-12, 1e-11, 1e-10, 1e-9], [sup(-12), sup(-11), sup(-10), sup(-9)], P3_MINOR)
layout["xaxis4"] = time_axis("y4")
layout["yaxis4"] = log_axis("x4", 514, 691, [1.448, 4.8], [100, 1000, 10000], [sup(2), sup(3), sup(4)], P4_MINOR)
layout["xaxis5"] = time_axis("y5", labels=True)
layout["yaxis5"] = dict(domain=dom_y(695, 711), range=[0, 1], anchor="x5", showticklabels=False, ticks="", showgrid=False, zeroline=False,
                        showline=True, linecolor=FRAME, linewidth=1.5, mirror=True)

for idx, top, bottom, lo, hi, majors, minors in [
    (6, 28, 220, P_MIN, P_MAX, [-12, -11, -10, -9], None),
    (7, 224, 416, P_MIN, P_MAX, [-12, -11, -10, -9], None),
    (8, 514, 691, I_MIN, I_MAX, [-4, -2, 0, 2, 4], [-5, -3, -1, 1, 3]),
]:
    layout[f"xaxis{idx}"] = dict(domain=dom_x(1092, 1104), range=[0, 1], anchor=f"y{idx}", visible=False)
    if minors is None:
        minors = [e + math.log10(k) for e in range(-13, -8) for k in range(2, 10)]
    layout[f"yaxis{idx}"] = dict(domain=dom_y(top, bottom), range=[lo, hi], anchor=f"x{idx}", side="right", showgrid=False, zeroline=False,
                                 showline=True, linecolor=FRAME, linewidth=1, tickmode="array", tickvals=majors,
                                 ticktext=[sup(m) for m in majors], ticks="outside", ticklen=8, tickcolor=FRAME,
                                 tickfont=dict(family=FONT, size=14, color=INK),
                                 minor=dict(tickmode="array", tickvals=minors, ticks="outside", ticklen=4, tickcolor=FRAME))

ORB_Y = [-40, -30, -20, -10, 0, 10, 20, 30, 40]
ORB_Y_TXT = ["\u221240.", "\u221230.", "\u221220.", "\u221210.", "0.", "10.", "20.", "30.", "40."]
ORB_X = [-40, -20, 0, 20, 40]
ORB_X_TXT = ["\u221240.", "\u221220.", "0.", "20.", "40."]
for idx, x0, x1, xr, yr in [
    (9, 216, 367, [40.36, -40.2], [40, -40.3]),
    (10, 509, 660, [40.4, -40.2], [-40, 40.3]),
    (11, 803, 954, [-40.7, 40], [-40, 40.3]),
]:
    layout[f"xaxis{idx}"] = dict(domain=dom_x(x0, x1), range=xr, anchor=f"y{idx}", showgrid=False, zeroline=False, showline=True,
                                 linecolor=FRAME, linewidth=1, mirror=True, tickmode="array", tickvals=ORB_X, ticktext=ORB_X_TXT,
                                 ticks="outside", ticklen=4, tickcolor=FRAME, tickfont=dict(family=FONT, size=12, color=INK), tickangle=0,
                                 minor=dict(tickmode="array", tickvals=[-30, -10, 10, 30], ticks="outside", ticklen=3, tickcolor=FRAME))
    layout[f"yaxis{idx}"] = dict(domain=dom_y(803, 950), range=yr, anchor=f"x{idx}", showgrid=False, zeroline=False, showline=True,
                                 linecolor=FRAME, linewidth=1, mirror=True, tickmode="array", tickvals=ORB_Y, ticktext=ORB_Y_TXT,
                                 ticks="outside", ticklen=5, tickcolor=FRAME, tickfont=dict(family=FONT, size=12, color=INK),
                                 minor=dict(tickmode="array", tickvals=[v for v in range(-40, 41, 2) if v % 10], ticks="outside", ticklen=4, tickcolor=FRAME))

fig.update_layout(**layout)

# black backing of the image panels
for ya, xa in [("y", "x"), ("y2", "x2"), ("y4", "x4")]:
    fig.add_shape(type="rect", xref=f"{xa} domain", yref=f"{ya} domain", x0=0, x1=1, y0=0, y1=1, layer="below",
                  fillcolor="black", line=dict(width=0))

# ---------- free text ----------
def note(text, x, y, anchor="left", size=11.5, angle=0):
    fig.add_annotation(text=text, x=x / W, y=1 - y / H, xref="paper", yref="paper", showarrow=False, xanchor=anchor, yanchor="middle",
                       textangle=angle, font=dict(family=FONT, size=size, color=INK))

note("CHEMS Pr.", 8, 23)
note("LEMMS Pr.", 8, 205)
note("LEMMS Ions", 8, 533)
note("Sunlight?", 81, 703, "right")
note("LT (hrs)", 62, 745, "right")
note("Rs", 62, 760, "right")
note("Dipole L", 62, 775, "right")
note("2016-070", 1090, 742, "center", 12)
note("Energy (keV)", 46, 124, "center", 11.5, -90)
note("Energy (keV)", 46, 320, "center", 11.5, -90)
note("P dyn/cm^2", 30, 464, "center", 11.5, -90)
note("Energy (keV)", 46, 602, "center", 11.5, -90)
note("pressure dyne/cm^2", 1167, 124, "center", 11.5, 90)
note("pressure dyne/cm^2", 1167, 318, "center", 11.5, 90)
note("intensity 1/(s cm^2 ster keV)", 1161, 603, "center", 11.5, 90)
for t, x, y, ang in [("KSM-X", 291, 987, 0), ("KSM-X", 584, 987, 0), ("KSM-Y", 878, 987, 0),
                     ("KSM-Y", 163, 876, -90), ("KSM-Z", 456, 876, -90), ("KSM-Z", 750, 876, -90)]:
    note(t, x, y, "center", 11.5, ang)

for label, color, y in [("CHEMS-P", "#0000ff", 428), ("LEMMS-P", "#ff0000", 443), ("CHEMS-O", "#00ff00", 458)]:
    note(label, 1105, y)
    fig.add_shape(type="line", xref="paper", yref="paper", x0=1091 / W, x1=1104 / W, y0=1 - (y - 2) / H, y1=1 - (y + 2) / H,
                  line=dict(color=color, width=1))

fig.write_html("out.html", post_script="document.body.style.margin='0';", config=dict(displayModeBar=False))
